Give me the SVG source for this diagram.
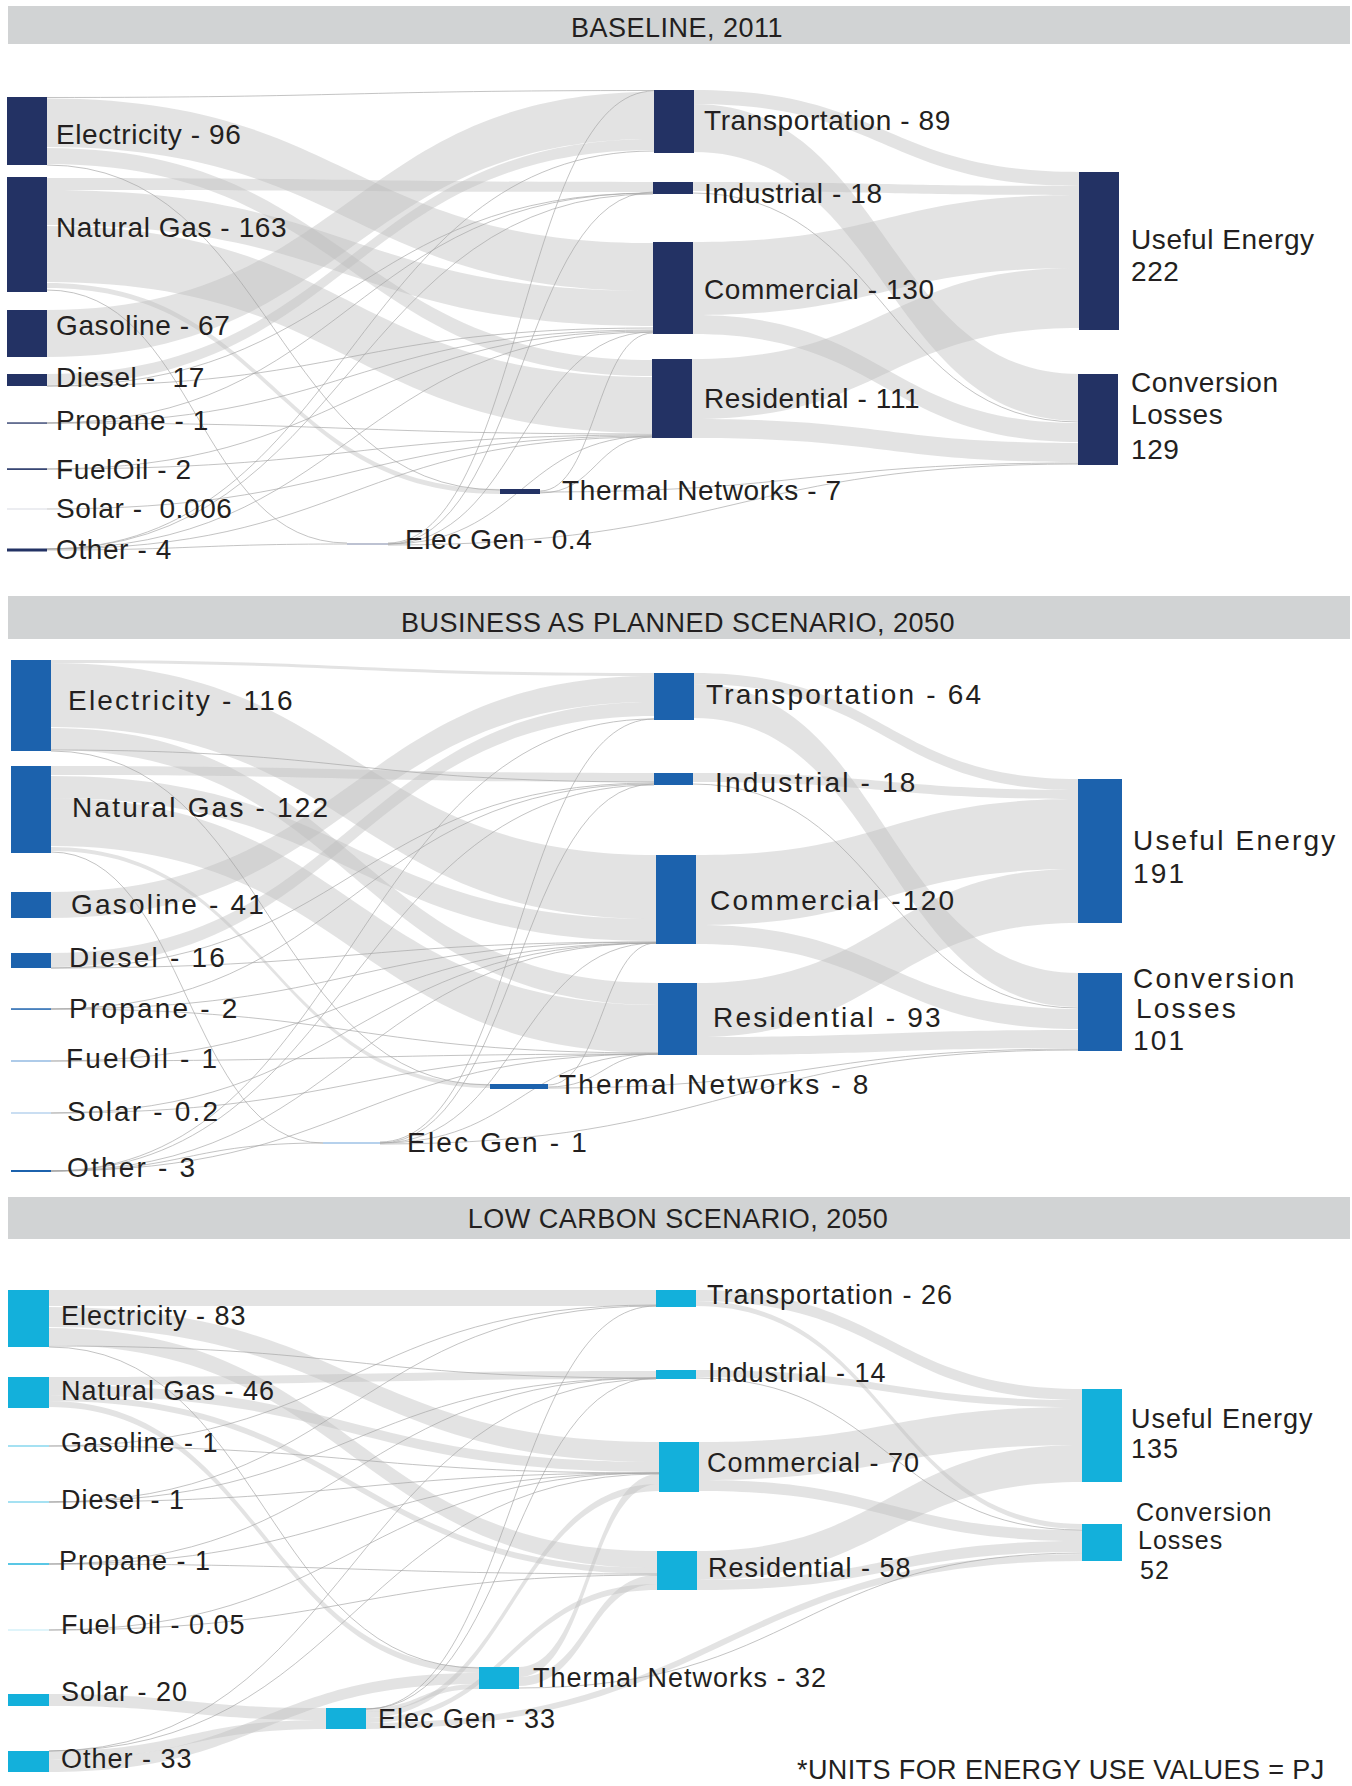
<svg xmlns="http://www.w3.org/2000/svg" width="1352" height="1786" viewBox="0 0 1352 1786">
<style>
.bg{fill:#ffffff}
.hdr{fill:#d1d3d4}
.ht{font-family:"Liberation Sans",Arial,sans-serif;font-size:27px;fill:#231f20;text-anchor:middle;letter-spacing:0.5px}
.lk{fill:#bdbdbd;fill-opacity:0.42;stroke:none}
.ln{fill:none;stroke:#a6a6a6;stroke-width:0.9;stroke-opacity:0.75}
.n1{fill:#233264}
.n2{fill:#1c62ad}
.n3{fill:#13b0db}
.t1{font-family:"Liberation Sans",Arial,sans-serif;font-size:28px;fill:#231f20;letter-spacing:0.6px}
.t2{font-family:"Liberation Sans",Arial,sans-serif;font-size:28px;fill:#231f20;letter-spacing:2.2px}
.t3{font-family:"Liberation Sans",Arial,sans-serif;font-size:27px;fill:#231f20;letter-spacing:1px}
.t3s{font-family:"Liberation Sans",Arial,sans-serif;font-size:25px;fill:#231f20;letter-spacing:1px}
.fn{font-family:"Liberation Sans",Arial,sans-serif;font-size:27px;fill:#231f20;letter-spacing:0.4px}
</style>
<rect class="bg" x="0" y="0" width="1352" height="1786"/>

<g id="headers">
<rect class="hdr" x="8" y="6" width="1342" height="38"/>
<text class="ht" x="677" y="37">BASELINE, 2011</text>
<rect class="hdr" x="8" y="596" width="1342" height="43"/>
<text class="ht" x="678" y="632">BUSINESS AS PLANNED SCENARIO, 2050</text>
<rect class="hdr" x="8" y="1197" width="1342" height="42"/>
<text class="ht" x="678" y="1228">LOW CARBON SCENARIO, 2050</text>
</g>

<g id="connectors">
<!-- Panel 1 bands -->
<path class="lk" d="M47 98.5C350 98.5 350 243 653 243L653 291C350 291 350 147 47 147Z"/>
<path class="lk" d="M47 148C350 148 350 360 653 360L653 376C350 376 350 164 47 164Z"/>
<path class="lk" d="M47 178C350 178 350 182 653 182L653 192C350 192 350 190 47 190Z"/>
<path class="lk" d="M47 190C350 190 350 291 653 291L653 326C350 326 350 225 47 225Z"/>
<path class="lk" d="M47 226C350 226 350 377 653 377L653 433C350 433 350 282 47 282Z"/>
<path class="lk" d="M47 283C273 283 273 489 500 489L500 494C273 494 273 288 47 288Z"/>
<path class="lk" d="M47 310C350 310 350 92 654 92L654 139C350 139 350 357 47 357Z"/>
<path class="lk" d="M47 374C350 374 350 139 654 139L654 150C350 150 350 385 47 385Z"/>
<path class="lk" d="M694 90C886 90 886 172 1079 172L1079 186C886 186 886 104 694 104Z"/>
<path class="lk" d="M694 104C886 104 886 374 1079 374L1079 421C886 421 886 152 694 152Z"/>
<path class="lk" d="M693 182C886 182 886 186 1079 186L1079 195C886 195 886 191 693 191Z"/>
<path class="lk" d="M693 242C886 242 886 195 1079 195L1079 268C886 268 886 315 693 315Z"/>
<path class="lk" d="M693 315C886 315 886 423 1079 423L1079 442C886 442 886 334 693 334Z"/>
<path class="lk" d="M692 359C886 359 886 268 1079 268L1079 328C886 328 886 419 692 419Z"/>
<path class="lk" d="M692 419C886 419 886 443 1079 443L1079 462C886 462 886 438 692 438Z"/>
<!-- Panel 1 thin flows -->
<path class="ln" d="M47 97.5C350 97.5 350 90.5 654 90.5"/>
<path class="ln" d="M47 165C273 165 273 490 500 490"/>
<path class="ln" d="M47 290C197 290 197 543 347 543"/>
<path class="ln" d="M47 386C350 386 350 193 653 193"/>
<path class="ln" d="M47 386C350 386 350 328 653 328"/>
<path class="ln" d="M47 423C350 423 350 193 653 193"/>
<path class="ln" d="M47 423C350 423 350 330 653 330"/>
<path class="ln" d="M47 423C350 423 350 434 653 434"/>
<path class="ln" d="M47 469C350 469 350 331 653 331"/>
<path class="ln" d="M47 469C350 469 350 435 653 435"/>
<path class="ln" d="M47 509C350 509 350 436 653 436"/>
<path class="ln" d="M47 549C350 549 350 194 653 194"/>
<path class="ln" d="M47 549C350 549 350 332 653 332"/>
<path class="ln" d="M47 549C350 549 350 437 653 437"/>
<path class="ln" d="M47 550C197 550 197 544 347 544"/>
<path class="ln" d="M47 549C350 549 350 151 654 151"/>
<path class="ln" d="M540 491C596 491 596 333 653 333"/>
<path class="ln" d="M540 493C596 493 596 437 653 437"/>
<path class="ln" d="M388 543C521 543 521 91 654 91"/>
<path class="ln" d="M388 544C521 544 521 192 653 192"/>
<path class="ln" d="M388 544C521 544 521 332 653 332"/>
<path class="ln" d="M388 544C521 544 521 436 653 436"/>
<path class="ln" d="M693 193C886 193 886 422 1079 422"/>
<path class="ln" d="M540 492C810 492 810 463 1079 463"/>
<path class="ln" d="M388 545C734 545 734 464 1079 464"/>

<!-- Panel 2 bands -->
<path class="lk" d="M51 660C352 660 352 673 654 673L654 676C352 676 352 663 51 663Z"/>
<path class="lk" d="M51 663C353 663 353 855 656 855L656 919C353 919 353 727 51 727Z"/>
<path class="lk" d="M51 728C354 728 354 983 658 983L658 1005C354 1005 354 750 51 750Z"/>
<path class="lk" d="M51 766C352 766 352 773 654 773L654 782C352 782 352 775 51 775Z"/>
<path class="lk" d="M51 776C353 776 353 919 656 919L656 941C353 941 353 798 51 798Z"/>
<path class="lk" d="M51 798C354 798 354 1005 658 1005L658 1053C354 1053 354 846 51 846Z"/>
<path class="lk" d="M51 847C270 847 270 1084 490 1084L490 1088C270 1088 270 851 51 851Z"/>
<path class="lk" d="M51 892C352 892 352 676 654 676L654 702C352 702 352 918 51 918Z"/>
<path class="lk" d="M51 953C352 953 352 702 654 702L654 716C352 716 352 967 51 967Z"/>
<path class="lk" d="M694 673C886 673 886 779 1078 779L1078 790C886 790 886 684 694 684Z"/>
<path class="lk" d="M694 684C886 684 886 973 1078 973L1078 1007C886 1007 886 718 694 718Z"/>
<path class="lk" d="M693 773C886 773 886 790 1078 790L1078 799C886 799 886 782 693 782Z"/>
<path class="lk" d="M696 855C887 855 887 799 1078 799L1078 869C887 869 887 925 696 925Z"/>
<path class="lk" d="M696 925C887 925 887 1009 1078 1009L1078 1029C887 1029 887 944 696 944Z"/>
<path class="lk" d="M697 983C887 983 887 869 1078 869L1078 923C887 923 887 1037 697 1037Z"/>
<path class="lk" d="M697 1037C887 1037 887 1030 1078 1030L1078 1048C887 1048 887 1055 697 1055Z"/>
<!-- Panel 2 thin flows -->
<path class="ln" d="M51 751C270 751 270 1085 490 1085"/>
<path class="ln" d="M51 750C352 750 352 782 654 782"/>
<path class="ln" d="M51 852C187 852 187 1143 323 1143"/>
<path class="ln" d="M51 968C352 968 352 783 654 783"/>
<path class="ln" d="M51 968C353 968 353 942 656 942"/>
<path class="ln" d="M51 1009C352 1009 352 784 654 784"/>
<path class="ln" d="M51 1009C353 1009 353 942 656 942"/>
<path class="ln" d="M51 1009C354 1009 354 1053 658 1053"/>
<path class="ln" d="M51 1061C353 1061 353 943 656 943"/>
<path class="ln" d="M51 1061C354 1061 354 1054 658 1054"/>
<path class="ln" d="M51 1113C354 1113 354 1054 658 1054"/>
<path class="ln" d="M51 1113C353 1113 353 943 656 943"/>
<path class="ln" d="M51 1171C352 1171 352 785 654 785"/>
<path class="ln" d="M51 1171C353 1171 353 943 656 943"/>
<path class="ln" d="M51 1171C354 1171 354 1054 658 1054"/>
<path class="ln" d="M51 1171C187 1171 187 1143 323 1143"/>
<path class="ln" d="M51 1171C352 1171 352 719 654 719"/>
<path class="ln" d="M548 1085C602 1085 602 943 656 943"/>
<path class="ln" d="M548 1087C603 1087 603 1054 658 1054"/>
<path class="ln" d="M380 1142C517 1142 517 719 654 719"/>
<path class="ln" d="M380 1143C517 1143 517 784 654 784"/>
<path class="ln" d="M380 1143C518 1143 518 943 656 943"/>
<path class="ln" d="M380 1143C519 1143 519 1054 658 1054"/>
<path class="ln" d="M693 784C886 784 886 1008 1078 1008"/>
<path class="ln" d="M548 1088C813 1088 813 1049 1078 1049"/>
<path class="ln" d="M380 1144C729 1144 729 1050 1078 1050"/>

<!-- Panel 3 bands -->
<path class="lk" d="M49 1290C352 1290 352 1290 656 1290L656 1306C352 1306 352 1306 49 1306Z"/>
<path class="lk" d="M49 1307C354 1307 354 1442 659 1442L659 1462C354 1462 354 1327 49 1327Z"/>
<path class="lk" d="M49 1328C353 1328 353 1551 657 1551L657 1568C353 1568 353 1345 49 1345Z"/>
<path class="lk" d="M49 1377C352 1377 352 1371 656 1371L656 1379C352 1379 352 1385 49 1385Z"/>
<path class="lk" d="M49 1385C354 1385 354 1462 659 1462L659 1472C354 1472 354 1395 49 1395Z"/>
<path class="lk" d="M49 1395C353 1395 353 1568 657 1568L657 1574C353 1574 353 1401 49 1401Z"/>
<path class="lk" d="M49 1401C264 1401 264 1667 479 1667L479 1673C264 1673 264 1407 49 1407Z"/>
<path class="lk" d="M49 1694C187 1694 187 1708 326 1708L326 1720C187 1720 187 1706 49 1706Z"/>
<path class="lk" d="M49 1751C187 1751 187 1720 326 1720L326 1729C187 1729 187 1760 49 1760Z"/>
<path class="lk" d="M49 1760C264 1760 264 1673 479 1673L479 1684C264 1684 264 1772 49 1772Z"/>
<path class="lk" d="M366 1708C422 1708 422 1684 479 1684L479 1689C422 1689 422 1712 366 1712Z"/>
<path class="lk" d="M366 1712C512 1712 512 1484 659 1484L659 1491C512 1491 512 1718 366 1718Z"/>
<path class="lk" d="M366 1718C511 1718 511 1584 657 1584L657 1590C511 1590 511 1723 366 1723Z"/>
<path class="lk" d="M519 1667C589 1667 589 1474 659 1474L659 1484C589 1484 589 1677 519 1677Z"/>
<path class="lk" d="M519 1677C588 1677 588 1575 657 1575L657 1584C588 1584 588 1686 519 1686Z"/>
<path class="lk" d="M696 1290C889 1290 889 1389 1082 1389L1082 1400C889 1400 889 1301 696 1301Z"/>
<path class="lk" d="M696 1301C889 1301 889 1524 1082 1524L1082 1529C889 1529 889 1306 696 1306Z"/>
<path class="lk" d="M696 1370C889 1370 889 1400 1082 1400L1082 1407C889 1407 889 1377 696 1377Z"/>
<path class="lk" d="M699 1442C890 1442 890 1407 1082 1407L1082 1445C890 1445 890 1480 699 1480Z"/>
<path class="lk" d="M699 1480C890 1480 890 1530 1082 1530L1082 1541C890 1541 890 1491 699 1491Z"/>
<path class="lk" d="M697 1551C889 1551 889 1445 1082 1445L1082 1482C889 1482 889 1580 697 1580Z"/>
<path class="lk" d="M697 1580C889 1580 889 1541 1082 1541L1082 1552C889 1552 889 1590 697 1590Z"/>
<path class="lk" d="M366 1723C724 1723 724 1554 1082 1554L1082 1561C724 1561 724 1729 366 1729Z"/>
<!-- Panel 3 thin flows -->
<path class="ln" d="M49 1346C352 1346 352 1378 656 1378"/>
<path class="ln" d="M49 1347C264 1347 264 1668 479 1668"/>
<path class="ln" d="M49 1446C352 1446 352 1305 656 1305"/>
<path class="ln" d="M49 1446C354 1446 354 1473 659 1473"/>
<path class="ln" d="M49 1502C352 1502 352 1306 656 1306"/>
<path class="ln" d="M49 1502C354 1502 354 1473 659 1473"/>
<path class="ln" d="M49 1502C352 1502 352 1378 656 1378"/>
<path class="ln" d="M49 1564C352 1564 352 1378 656 1378"/>
<path class="ln" d="M49 1564C354 1564 354 1473 659 1473"/>
<path class="ln" d="M49 1564C353 1564 353 1574 657 1574"/>
<path class="ln" d="M49 1630C354 1630 354 1473 659 1473"/>
<path class="ln" d="M49 1630C353 1630 353 1575 657 1575"/>
<path class="ln" d="M49 1751C352 1751 352 1379 656 1379"/>
<path class="ln" d="M49 1751C354 1751 354 1474 659 1474"/>
<path class="ln" d="M366 1709C511 1709 511 1306 656 1306"/>
<path class="ln" d="M366 1709C511 1709 511 1378 656 1378"/>
<path class="ln" d="M696 1378C889 1378 889 1530 1082 1530"/>
<path class="ln" d="M519 1688C800 1688 800 1553 1082 1553"/>
</g>

<!-- Panel 1 nodes -->
<g id="p1-electricity"><rect class="n1" x="7" y="97" width="40" height="68"/><text class="t1" x="56" y="144">Electricity - 96</text></g>
<g id="p1-natural-gas"><rect class="n1" x="7" y="177" width="40" height="115"/><text class="t1" x="56" y="237">Natural Gas - 163</text></g>
<g id="p1-gasoline"><rect class="n1" x="7" y="310" width="40" height="47"/><text class="t1" x="56" y="335">Gasoline - 67</text></g>
<g id="p1-diesel"><rect class="n1" x="7" y="374" width="40" height="12"/><text class="t1" x="56" y="387" xml:space="preserve">Diesel -  17</text></g>
<g id="p1-propane"><rect class="n1" x="7" y="422.4" width="40" height="1.3"/><text class="t1" x="56" y="430">Propane - 1</text></g>
<g id="p1-fueloil"><rect class="n1" x="7" y="468.3" width="40" height="1.6"/><text class="t1" x="56" y="479">FuelOil - 2</text></g>
<g id="p1-solar"><rect x="7" y="508.5" width="40" height="1" fill="#d9dce4"/><text class="t1" x="56" y="518" xml:space="preserve">Solar -  0.006</text></g>
<g id="p1-other"><rect class="n1" x="7" y="548.5" width="40" height="3"/><text class="t1" x="56" y="559">Other - 4</text></g>
<g id="p1-transportation"><rect class="n1" x="654" y="90" width="40" height="63"/><text class="t1" x="704" y="130">Transportation - 89</text></g>
<g id="p1-industrial"><rect class="n1" x="653" y="182" width="40" height="12"/><text class="t1" x="704" y="203">Industrial - 18</text></g>
<g id="p1-commercial"><rect class="n1" x="653" y="242" width="40" height="92"/><text class="t1" x="704" y="299">Commercial - 130</text></g>
<g id="p1-residential"><rect class="n1" x="652" y="359" width="40" height="79"/><text class="t1" x="704" y="408">Residential - 111</text></g>
<g id="p1-thermal"><rect class="n1" x="500" y="489" width="40" height="5"/><text class="t1" x="562" y="500">Thermal Networks - 7</text></g>
<g id="p1-elecgen"><rect x="347" y="543.5" width="41" height="1" fill="#7c86a6"/><text class="t1" x="405" y="549">Elec Gen - 0.4</text></g>
<g id="p1-useful"><rect class="n1" x="1079" y="172" width="40" height="158"/><text class="t1" x="1131" y="249">Useful Energy<tspan x="1131" y="281">222</tspan></text></g>
<g id="p1-losses"><rect class="n1" x="1078" y="374" width="40" height="91"/><text class="t1" x="1131" y="392">Conversion<tspan x="1131" y="424">Losses</tspan><tspan x="1131" y="459">129</tspan></text></g>

<!-- Panel 2 nodes -->
<g id="p2-electricity"><rect class="n2" x="11" y="660" width="40" height="91"/><text class="t2" x="68" y="710">Electricity - 116</text></g>
<g id="p2-natural-gas"><rect class="n2" x="11" y="766" width="40" height="87"/><text class="t2" x="72" y="817">Natural Gas - 122</text></g>
<g id="p2-gasoline"><rect class="n2" x="11" y="892" width="40" height="26"/><text class="t2" x="71" y="914">Gasoline - 41</text></g>
<g id="p2-diesel"><rect class="n2" x="11" y="953" width="40" height="15"/><text class="t2" x="69" y="967">Diesel - 16</text></g>
<g id="p2-propane"><rect class="n2" x="11" y="1008.3" width="40" height="1.5"/><text class="t2" x="69" y="1018">Propane - 2</text></g>
<g id="p2-fueloil"><rect x="11" y="1060.5" width="40" height="1" fill="#5e98d4"/><text class="t2" x="66" y="1068">FuelOil - 1</text></g>
<g id="p2-solar"><rect x="11" y="1112.5" width="40" height="1" fill="#95bde6"/><text class="t2" x="67" y="1121">Solar - 0.2</text></g>
<g id="p2-other"><rect class="n2" x="11" y="1170" width="40" height="2"/><text class="t2" x="67" y="1177">Other - 3</text></g>
<g id="p2-transportation"><rect class="n2" x="654" y="673" width="40" height="47"/><text class="t2" x="706" y="704">Transportation - 64</text></g>
<g id="p2-industrial"><rect class="n2" x="654" y="773" width="39" height="12"/><text class="t2" x="715" y="792">Industrial - 18</text></g>
<g id="p2-commercial"><rect class="n2" x="656" y="855" width="40" height="89"/><text class="t2" x="710" y="910">Commercial -120</text></g>
<g id="p2-residential"><rect class="n2" x="658" y="983" width="39" height="72"/><text class="t2" x="713" y="1027">Residential - 93</text></g>
<g id="p2-thermal"><rect class="n2" x="490" y="1084" width="58" height="5"/><text class="t2" x="559" y="1094">Thermal Networks - 8</text></g>
<g id="p2-elecgen"><rect x="323" y="1142.5" width="57" height="1" fill="#6ea3d9"/><text class="t2" x="407" y="1152">Elec Gen - 1</text></g>
<g id="p2-useful"><rect class="n2" x="1078" y="779" width="44" height="144"/><text class="t2" x="1133" y="850">Useful Energy<tspan x="1133" y="883">191</tspan></text></g>
<g id="p2-losses"><rect class="n2" x="1078" y="973" width="44" height="78"/><text class="t2" x="1133" y="988">Conversion<tspan x="1136" y="1018">Losses</tspan><tspan x="1133" y="1050">101</tspan></text></g>

<!-- Panel 3 nodes -->
<g id="p3-electricity"><rect class="n3" x="8" y="1290" width="41" height="57"/><text class="t3" x="61" y="1325">Electricity - 83</text></g>
<g id="p3-natural-gas"><rect class="n3" x="8" y="1377" width="41" height="31"/><text class="t3" x="61" y="1400">Natural Gas - 46</text></g>
<g id="p3-gasoline"><rect x="8" y="1445.5" width="41" height="1" fill="#4cc3e6"/><text class="t3" x="61" y="1452">Gasoline - 1</text></g>
<g id="p3-diesel"><rect x="8" y="1501.5" width="41" height="1" fill="#4cc3e6"/><text class="t3" x="61" y="1509">Diesel - 1</text></g>
<g id="p3-propane"><rect class="n3" x="8" y="1563.3" width="41" height="1.4"/><text class="t3" x="59" y="1570">Propane - 1</text></g>
<g id="p3-fueloil"><rect x="8" y="1629.5" width="41" height="1" fill="#bfe9f6"/><text class="t3" x="61" y="1634">Fuel Oil - 0.05</text></g>
<g id="p3-solar"><rect class="n3" x="8" y="1694" width="41" height="12"/><text class="t3" x="61" y="1701">Solar - 20</text></g>
<g id="p3-other"><rect class="n3" x="8" y="1751" width="41" height="21"/><text class="t3" x="61" y="1768">Other - 33</text></g>
<g id="p3-elecgen"><rect class="n3" x="326" y="1708" width="40" height="21"/><text class="t3" x="378" y="1728">Elec Gen - 33</text></g>
<g id="p3-thermal"><rect class="n3" x="479" y="1667" width="40" height="22"/><text class="t3" x="533" y="1687">Thermal Networks - 32</text></g>
<g id="p3-transportation"><rect class="n3" x="656" y="1290" width="40" height="17"/><text class="t3" x="707" y="1304">Transportation - 26</text></g>
<g id="p3-industrial"><rect class="n3" x="656" y="1370" width="40" height="9"/><text class="t3" x="708" y="1382">Industrial - 14</text></g>
<g id="p3-commercial"><rect class="n3" x="659" y="1442" width="40" height="50"/><text class="t3" x="707" y="1472">Commercial - 70</text></g>
<g id="p3-residential"><rect class="n3" x="657" y="1551" width="40" height="39"/><text class="t3" x="708" y="1577">Residential - 58</text></g>
<g id="p3-useful"><rect class="n3" x="1082" y="1389" width="40" height="93"/><text class="t3" x="1131" y="1428">Useful Energy<tspan x="1131" y="1458">135</tspan></text></g>
<g id="p3-losses"><rect class="n3" x="1082" y="1524" width="40" height="37"/><text class="t3s" x="1136" y="1521">Conversion<tspan x="1138" y="1549">Losses</tspan><tspan x="1140" y="1579">52</tspan></text></g>

<g id="footnote"><text class="fn" x="797" y="1779">*UNITS FOR ENERGY USE VALUES = PJ</text></g>
</svg>
